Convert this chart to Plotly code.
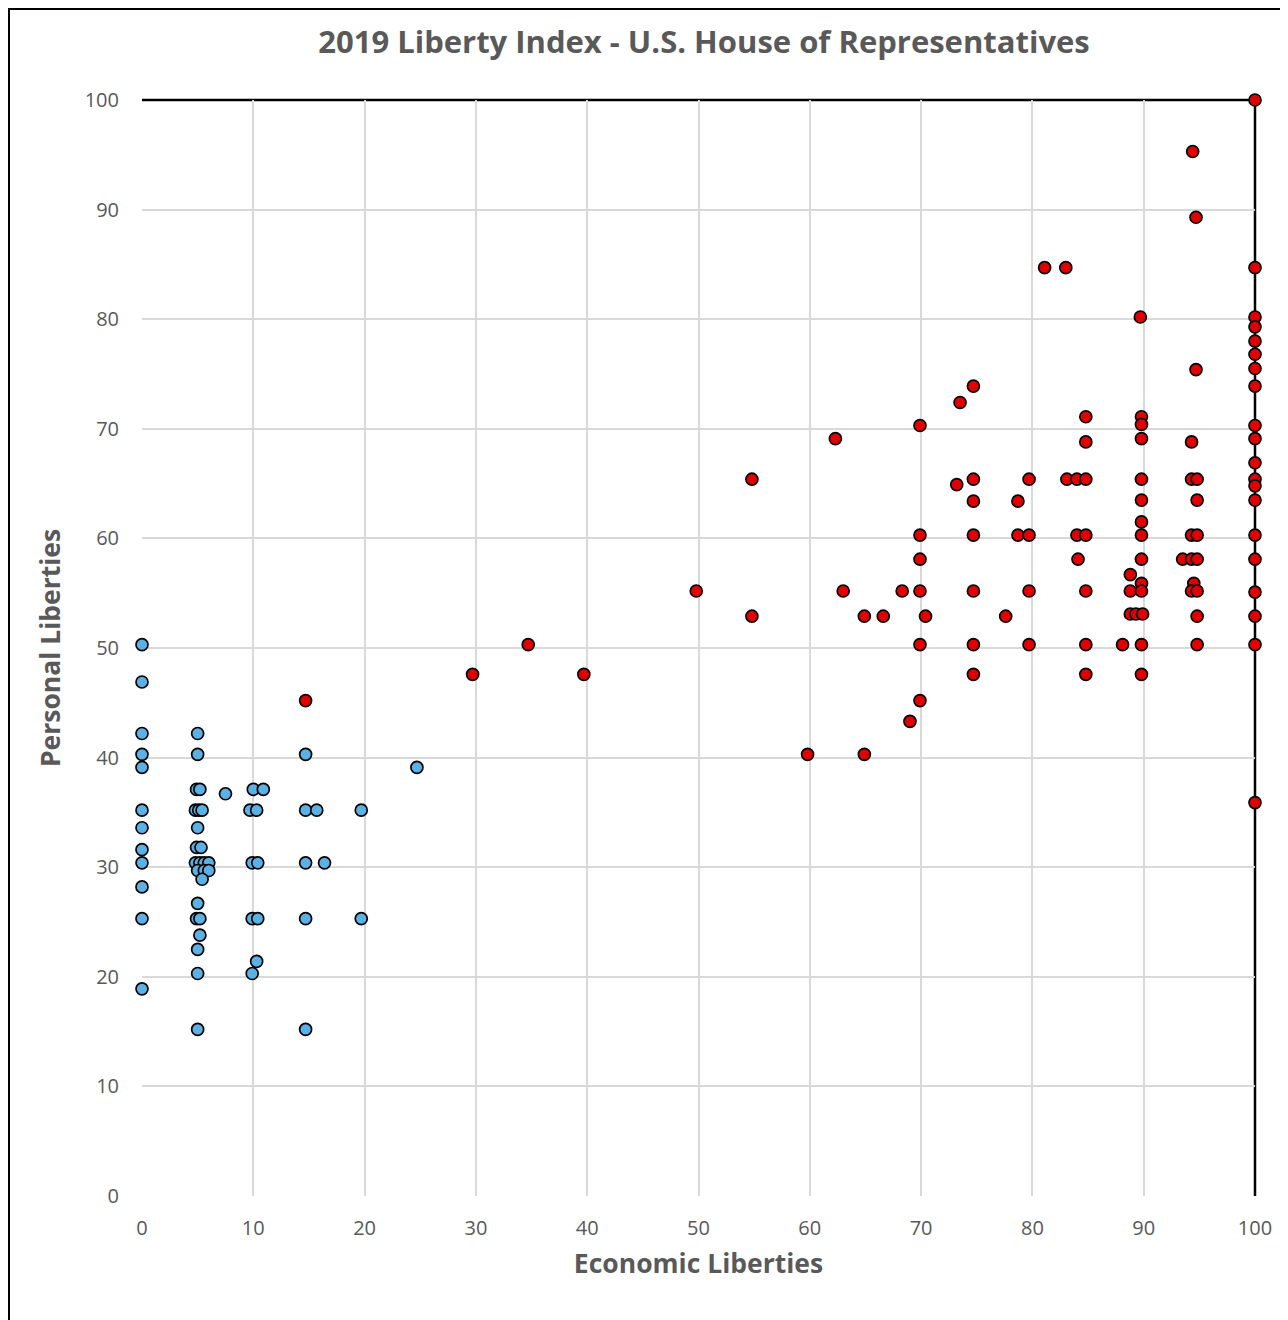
import plotly.graph_objects as go

# Democrats (blue)
dem_x = [0, 0, 0, 0, 0, 0, 0, 0, 0, 0, 0, 0,
         5, 5, 4.9, 5.2, 4.8, 5.1, 5.4, 5, 4.9, 5.3, 4.8, 5.2, 5.6, 6.0, 5.0, 5.6, 6.0, 5.4, 5, 4.9, 5.2, 5.2, 5, 5, 5,
         7.5,
         10.0, 10.9, 9.7, 10.3, 9.9, 10.4, 9.9, 10.4, 10.3, 9.9,
         14.7, 14.7, 15.7, 14.7, 16.4, 14.7, 14.7,
         19.7, 19.7,
         24.7]
dem_y = [50.3, 46.9, 42.2, 40.3, 39.1, 35.2, 33.6, 31.6, 30.4, 28.2, 25.3, 18.9,
         42.2, 40.3, 37.1, 37.1, 35.2, 35.2, 35.2, 33.6, 31.8, 31.8, 30.4, 30.4, 30.4, 30.4, 29.7, 29.7, 29.7, 28.9, 26.7, 25.3, 25.3, 23.8, 22.5, 20.3, 15.2,
         36.7,
         37.1, 37.1, 35.2, 35.2, 30.4, 30.4, 25.3, 25.3, 21.4, 20.3,
         40.3, 35.2, 35.2, 30.4, 30.4, 25.3, 15.2,
         35.2, 25.3,
         39.1]

# Republicans (red)
rep_x = [14.7, 29.7, 34.7, 39.7, 49.8, 54.8, 54.8, 59.8, 64.9,
         62.3, 63.0, 64.9, 66.6, 68.3, 69.0,
         69.9, 69.9, 69.9, 69.9, 70.4, 69.9, 69.9,
         73.5, 73.2, 74.7, 74.7, 74.7, 74.7, 74.7, 74.7, 74.7,
         77.6, 78.7, 78.7, 79.7, 79.7, 79.7, 79.7,
         81.1, 83.0,
         83.1, 84.0, 84.8, 84.8, 84.8, 84.0, 84.8, 84.1, 84.8, 84.8, 84.8,
         88.1, 88.8, 88.8, 88.8, 89.3, 89.9,
         89.7, 89.8, 89.8, 89.8, 89.8, 89.8, 89.8, 89.8, 89.8, 89.8, 89.8, 89.8, 89.8,
         94.4, 94.7, 94.7, 94.3, 94.3, 94.8, 94.3, 94.8, 93.5, 94.3, 94.8, 94.5, 94.3, 94.8, 94.8, 94.8, 94.8,
         100, 100, 100, 100, 100, 100, 100, 100, 100, 100, 100, 100, 100, 100, 100, 100, 100, 100, 100, 100]
rep_y = [45.2, 47.6, 50.3, 47.6, 55.2, 65.4, 52.9, 40.3, 40.3,
         69.1, 55.2, 52.9, 52.9, 55.2, 43.3,
         70.3, 60.3, 58.1, 55.2, 52.9, 50.3, 45.2,
         72.4, 64.9, 73.9, 65.4, 63.4, 60.3, 55.2, 50.3, 47.6,
         52.9, 63.4, 60.3, 65.4, 60.3, 55.2, 50.3,
         84.7, 84.7,
         65.4, 65.4, 65.4, 71.1, 68.8, 60.3, 60.3, 58.1, 55.2, 50.3, 47.6,
         50.3, 56.7, 55.2, 53.1, 53.1, 53.1,
         80.2, 71.1, 70.4, 69.1, 65.4, 63.5, 61.5, 60.3, 58.1, 55.9, 55.2, 50.3, 47.6,
         95.3, 89.3, 75.4, 68.8, 65.4, 65.4, 60.3, 60.3, 58.1, 58.1, 58.1, 55.9, 55.2, 55.2, 63.5, 52.9, 50.3,
         100, 84.7, 80.2, 79.3, 78.0, 76.8, 75.5, 73.9, 70.3, 69.1, 66.9, 65.4, 64.8, 63.5, 60.3, 58.1, 55.1, 52.9, 50.3, 35.9]

tick_vals = [0, 10, 20, 30, 40, 50, 60, 70, 80, 90, 100]

FONT = "'Open Sans', sans-serif"
GREY = "#595959"

# figure is placed at (8,8) in the page (default body margin)
W, H = 1280, 1312
ML, MR, MT, MB = 134, 33, 92, 124
PW = W - ML - MR
PH = H - MT - MB

fig = go.Figure()
fig.add_trace(go.Scatter(x=dem_x, y=dem_y, mode="markers", name="Democrats",
                         marker=dict(size=12, color="#5BB0E4", line=dict(color="black", width=1.7)),
                         cliponaxis=False))
fig.add_trace(go.Scatter(x=rep_x, y=rep_y, mode="markers", name="Republicans",
                         marker=dict(size=12, color="#E00000", line=dict(color="black", width=1.7)),
                         cliponaxis=False))

# black lines on top and right edges
fig.add_shape(type="line", xref="paper", yref="paper", x0=0, x1=1, y0=1, y1=1,
              line=dict(color="black", width=2.5), layer="below")
fig.add_shape(type="line", xref="paper", yref="paper", x0=1, x1=1, y0=0, y1=1,
              line=dict(color="black", width=2.5), layer="below")
# outer frame
fig.add_shape(type="rect", xref="paper", yref="paper",
              x0=(1 - ML) / PW, x1=(W + 10 - ML) / PW,
              y0=(H - MB - (H + 10)) / PH, y1=(H - MB - 1) / PH,
              line=dict(color="black", width=2), fillcolor="rgba(0,0,0,0)")

fig.update_layout(
    width=W, height=H,
    margin=dict(l=ML, r=MR, t=MT, b=MB),
    paper_bgcolor="white", plot_bgcolor="white",
    showlegend=False,
    font=dict(family=FONT, color=GREY),
    title=dict(text="<b>2019 Liberty Index - U.S. House of Representatives</b>",
               x=696 / W, xanchor="center", y=1 - 34 / H, yanchor="middle",
               font=dict(size=31, family=FONT, color=GREY)),
    xaxis=dict(range=[0, 100], tickvals=tick_vals, showgrid=True, gridcolor="#D9D9D9", gridwidth=2,
               zeroline=False, showline=False, ticks="", ticklabelstandoff=18,
               tickfont=dict(size=20, color=GREY, family=FONT),
               title=dict(text="<b>Economic Liberties</b>", font=dict(size=26.5, color=GREY, family=FONT), standoff=14)),
    yaxis=dict(range=[0, 100], tickvals=tick_vals, showgrid=True, gridcolor="#D9D9D9", gridwidth=2,
               zeroline=False, showline=False, ticks="", ticklabelstandoff=22,
               tickfont=dict(size=20, color=GREY, family=FONT),
               title=dict(text="<b>Personal Liberties</b>", font=dict(size=26.5, color=GREY, family=FONT), standoff=16)),
)

fig.write_html("out.html")
